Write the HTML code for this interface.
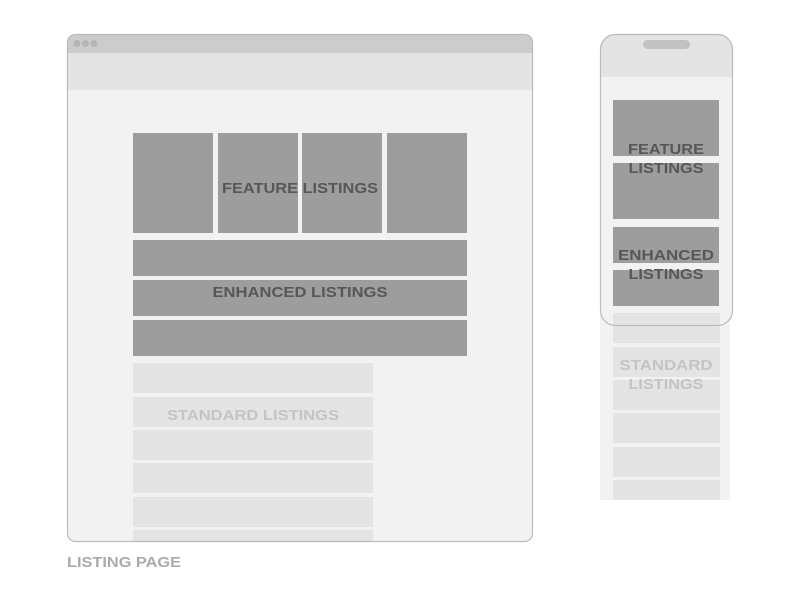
<!DOCTYPE html>
<html><head><meta charset="utf-8"><style>html,body{margin:0;padding:0;background:#fff}svg{display:block}</style></head>
<body>
<svg width="800" height="600" viewBox="0 0 800 600" xmlns="http://www.w3.org/2000/svg" font-family="Liberation Sans, sans-serif" font-weight="bold">
<defs>
<clipPath id="bc"><rect x="67" y="34" width="466" height="508" rx="8"/></clipPath>
<clipPath id="pc"><rect x="600" y="34" width="133" height="292" rx="15"/></clipPath>
</defs>
<!-- browser -->
<g clip-path="url(#bc)">
<rect x="67" y="34" width="466" height="508" fill="#f2f2f2"/>
<rect x="67" y="34" width="466" height="19" fill="#cccccc"/>
<rect x="67" y="53" width="466" height="37" fill="#e4e4e4"/>
<circle cx="77" cy="43.5" r="3.5" fill="#b5b5b5"/><circle cx="85.5" cy="43.5" r="3.5" fill="#b5b5b5"/><circle cx="94" cy="43.5" r="3.5" fill="#b5b5b5"/>
<g fill="#9d9d9d">
<rect x="133" y="133" width="80" height="100"/><rect x="218" y="133" width="80" height="100"/><rect x="302" y="133" width="80" height="100"/><rect x="387" y="133" width="80" height="100"/>
<rect x="133" y="240" width="334" height="36"/><rect x="133" y="280" width="334" height="36"/><rect x="133" y="320" width="334" height="36"/>
</g>
<g fill="#e4e4e4">
<rect x="133" y="363" width="240" height="30"/><rect x="133" y="397" width="240" height="30"/><rect x="133" y="430" width="240" height="30"/><rect x="133" y="463" width="240" height="30"/><rect x="133" y="497" width="240" height="30"/><rect x="133" y="530" width="240" height="30"/>
</g>
</g>
<rect x="67.5" y="34.5" width="465" height="507" rx="8" fill="none" stroke="#bbbbbb" stroke-width="1.2"/>
<g font-size="15" text-anchor="middle">
<text x="300" y="193" fill="#575757" textLength="156" lengthAdjust="spacingAndGlyphs">FEATURE LISTINGS</text>
<text x="300" y="297" fill="#575757" textLength="175" lengthAdjust="spacingAndGlyphs">ENHANCED LISTINGS</text>
<text x="253" y="420" fill="#c4c4c4" textLength="172" lengthAdjust="spacingAndGlyphs">STANDARD LISTINGS</text>
</g>
<text x="67" y="567" font-size="15" fill="#ababab" textLength="114" lengthAdjust="spacingAndGlyphs">LISTING PAGE</text>
<!-- phone -->
<rect x="600" y="300" width="130" height="200" fill="#f2f2f2"/>
<g clip-path="url(#pc)">
<rect x="600" y="34" width="133" height="292" fill="#f2f2f2"/>
<rect x="600" y="34" width="133" height="43" fill="#e4e4e4"/>
</g>
<rect x="643" y="40" width="47" height="9" rx="4.5" fill="#c2c2c2"/>
<g fill="#9d9d9d">
<rect x="613" y="100" width="106" height="56"/><rect x="613" y="163" width="106" height="56"/>
<rect x="613" y="227" width="106" height="36"/><rect x="613" y="270" width="106" height="36"/>
</g>
<g fill="#e4e4e4">
<rect x="613" y="313" width="107" height="30"/><rect x="613" y="347" width="107" height="30"/><rect x="613" y="380" width="107" height="30"/><rect x="613" y="413" width="107" height="30"/><rect x="613" y="447" width="107" height="30"/><rect x="613" y="480" width="107" height="20"/>
</g>
<rect x="600.5" y="34.5" width="132" height="291" rx="15" fill="none" stroke="#bbbbbb" stroke-width="1.2"/>
<g font-size="15" text-anchor="middle">
<text x="666" y="154" fill="#575757" textLength="76" lengthAdjust="spacingAndGlyphs">FEATURE</text>
<text x="666" y="173" fill="#575757" textLength="75" lengthAdjust="spacingAndGlyphs">LISTINGS</text>
<text x="666" y="260" fill="#575757" textLength="96" lengthAdjust="spacingAndGlyphs">ENHANCED</text>
<text x="666" y="279" fill="#575757" textLength="75" lengthAdjust="spacingAndGlyphs">LISTINGS</text>
<text x="666" y="370" fill="#c4c4c4" textLength="93" lengthAdjust="spacingAndGlyphs">STANDARD</text>
<text x="666" y="389" fill="#c4c4c4" textLength="75" lengthAdjust="spacingAndGlyphs">LISTINGS</text>
</g>
</svg>
</body></html>
